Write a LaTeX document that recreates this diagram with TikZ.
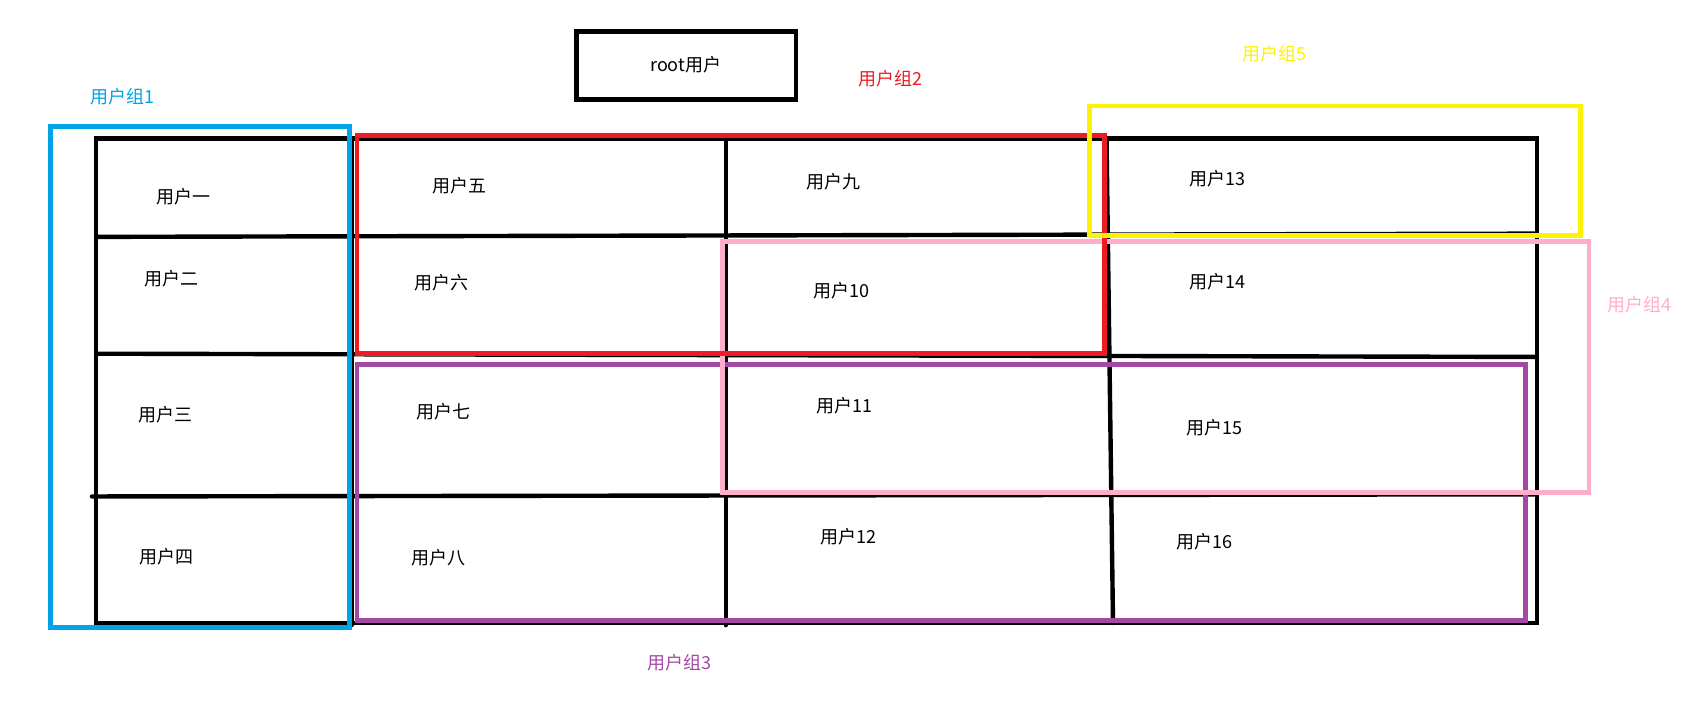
\documentclass[tikz,border=0pt]{standalone}
\usepackage{fontspec}
\setmainfont{Noto Sans CJK SC}
\usepackage{tikz}
\usepackage{xcolor}
\definecolor{grpblue}{HTML}{00A2E8}
\definecolor{grpred}{HTML}{ED1C24}
\definecolor{grppurple}{HTML}{A349A4}
\definecolor{grppink}{HTML}{FFAEC9}
\definecolor{grpyellow}{HTML}{FFF200}
\tikzset{
  cell/.style={line width=2.2pt},
  grpbox/.style={line width=2.4pt},
  grplabel/.style={font=\fontsize{9}{11}\selectfont}
}

\begin{document}
\begin{tikzpicture}[x=0.5408pt,y=-0.5408pt,font=\fontsize{9}{11}\selectfont,line cap=round]
\useasboundingbox (0,0) rectangle (1568,656);
\draw[cell] (533,29) rectangle (736,92);
\node (root) at (634,60) {root用户};
\draw[cell] (89,128) rectangle (1421,576);
\draw[cell] (325,128) -- (325,578);
\draw[cell] (671,128) -- (671,578);
\draw[cell] (1023,128) -- (1029,576);
\draw[cell] (89,219) -- (1421,216);
\draw[cell] (89,327) -- (1421,330);
\draw[cell] (85,459) -- (1421,457);
\node (u1) at (170,182) {用户一};
\node (u2) at (159,258) {用户二};
\node (u3) at (153,383) {用户三};
\node (u4) at (154,515) {用户四};
\node (u5) at (425,172) {用户五};
\node (u6) at (408,261) {用户六};
\node (u7) at (410,381) {用户七};
\node (u8) at (405,516) {用户八};
\node (u9) at (771,168) {用户九};
\node (u10) at (778,269) {用户10};
\node (u11) at (781,375) {用户11};
\node (u12) at (784,496) {用户12};
\node (u13) at (1126,165) {用户13};
\node (u14) at (1126,260) {用户14};
\node (u15) at (1123,395) {用户15};
\node (u16) at (1114,501) {用户16};
\draw[grpbox,grpblue] (47,117) rectangle (323,580);
\node[grplabel,text=grpblue] (g1) at (113,89) {用户组1};
\draw[grpbox,grppurple] (330,337) rectangle (1410,574);
\node[grplabel,text=grppurple] (g3) at (628,613) {用户组3};
\draw[grpbox,grppink] (668,223) rectangle (1469,455);
\node[grplabel,text=grppink] (g4) at (1516,282) {用户组4};
\draw[grpbox,grpred] (330,125) rectangle (1021,327);
\node[grplabel,text=grpred] (g2) at (823,73) {用户组2};
\draw[grpbox,grpyellow] (1007,98) rectangle (1461,218);
\node[grplabel,text=grpyellow] (g5) at (1178,50) {用户组5};
\end{tikzpicture}
\end{document}
